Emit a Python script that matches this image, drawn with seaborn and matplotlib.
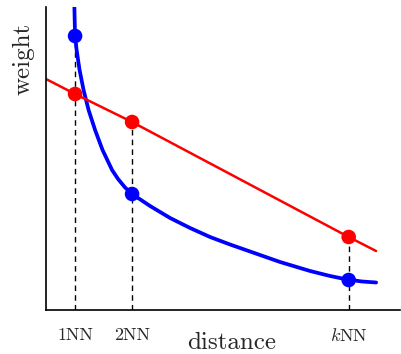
import numpy as np
import pandas as pd
import seaborn as sns
import matplotlib.pyplot as plt

# distance in units of the 1NN distance, weight in arbitrary units
curve_dist = [0.988, 0.993, 1.0, 1.027, 1.079, 1.149, 1.237, 1.351, 1.482, 1.649, 1.754,
              1.877, 2.0, 2.316, 2.667, 3.018, 3.368, 3.719, 4.07, 4.596, 5.123, 5.474,
              5.772, 6.035, 6.281]
curve_weight = [3.03, 2.90, 2.74, 2.60, 2.40, 2.20, 2.00, 1.80, 1.60, 1.40, 1.31,
                1.225, 1.16, 1.04, 0.92, 0.82, 0.73, 0.655, 0.585, 0.48, 0.39, 0.34,
                0.305, 0.285, 0.275]
line_dist = [0.49, 1.0, 2.0, 5.8, 6.28]
line_weight = [2.31, 2.16, 1.88, 0.73, 0.59]

nn_dist = [1.0, 2.0, 5.8]
nn_labels = ["1NN", "2NN", "$k$NN"]
nn_curve = [2.74, 1.16, 0.30]
nn_line = [2.16, 1.88, 0.73]

sns.set_style("white")
plt.rcParams['font.family'] = ['cmr10', 'DejaVu Serif']
plt.rcParams['mathtext.fontset'] = 'cm'
plt.rcParams['axes.formatter.use_mathtext'] = True

fig = plt.figure(figsize=(4.02, 3.54), dpi=100)
ax = fig.add_axes([46 / 402, 44 / 354, 354 / 402, 303 / 354])

curve = pd.DataFrame({"d": curve_dist, "w": curve_weight})
line = pd.DataFrame({"d": line_dist, "w": line_weight})
pts = pd.DataFrame({"d": nn_dist * 2, "w": nn_curve + nn_line,
                    "kind": ["curve"] * 3 + ["line"] * 3})

for d, a, b in zip(nn_dist, nn_curve, nn_line):
    ax.plot([d, d], [0, max(a, b)], color="black", lw=1.0, ls=(0, (4, 3)), zorder=1)

sns.lineplot(data=curve, x="d", y="w", color="#0000ff", lw=2.7, sort=False, ax=ax, zorder=2)
sns.lineplot(data=line, x="d", y="w", color="#ff0000", lw=1.8, ax=ax, zorder=2)
sns.scatterplot(data=pts, x="d", y="w", hue="kind", palette={"curve": "#0000ff", "line": "#ff0000"},
                s=110, linewidth=0, legend=False, ax=ax, zorder=3)

ax.set_xlim(0.49, 6.70)
ax.set_ylim(0, 3.03)
ax.set_xticks(nn_dist)
ax.set_xticklabels(nn_labels, fontsize=13)
ax.set_yticks([])
ax.tick_params(axis="x", length=0, pad=12.5)
for s in ["top", "right"]:
    ax.spines[s].set_visible(False)
for s in ["left", "bottom"]:
    ax.spines[s].set_color("black")
    ax.spines[s].set_linewidth(1.2)

ax.set_xlabel("distance", fontsize=18)
ax.set_ylabel("weight", fontsize=18)
ax.xaxis.set_label_coords(0.525, -0.072)
ax.yaxis.set_label_coords(-0.031, 0.83)

fig.savefig("out.png", dpi=100)
